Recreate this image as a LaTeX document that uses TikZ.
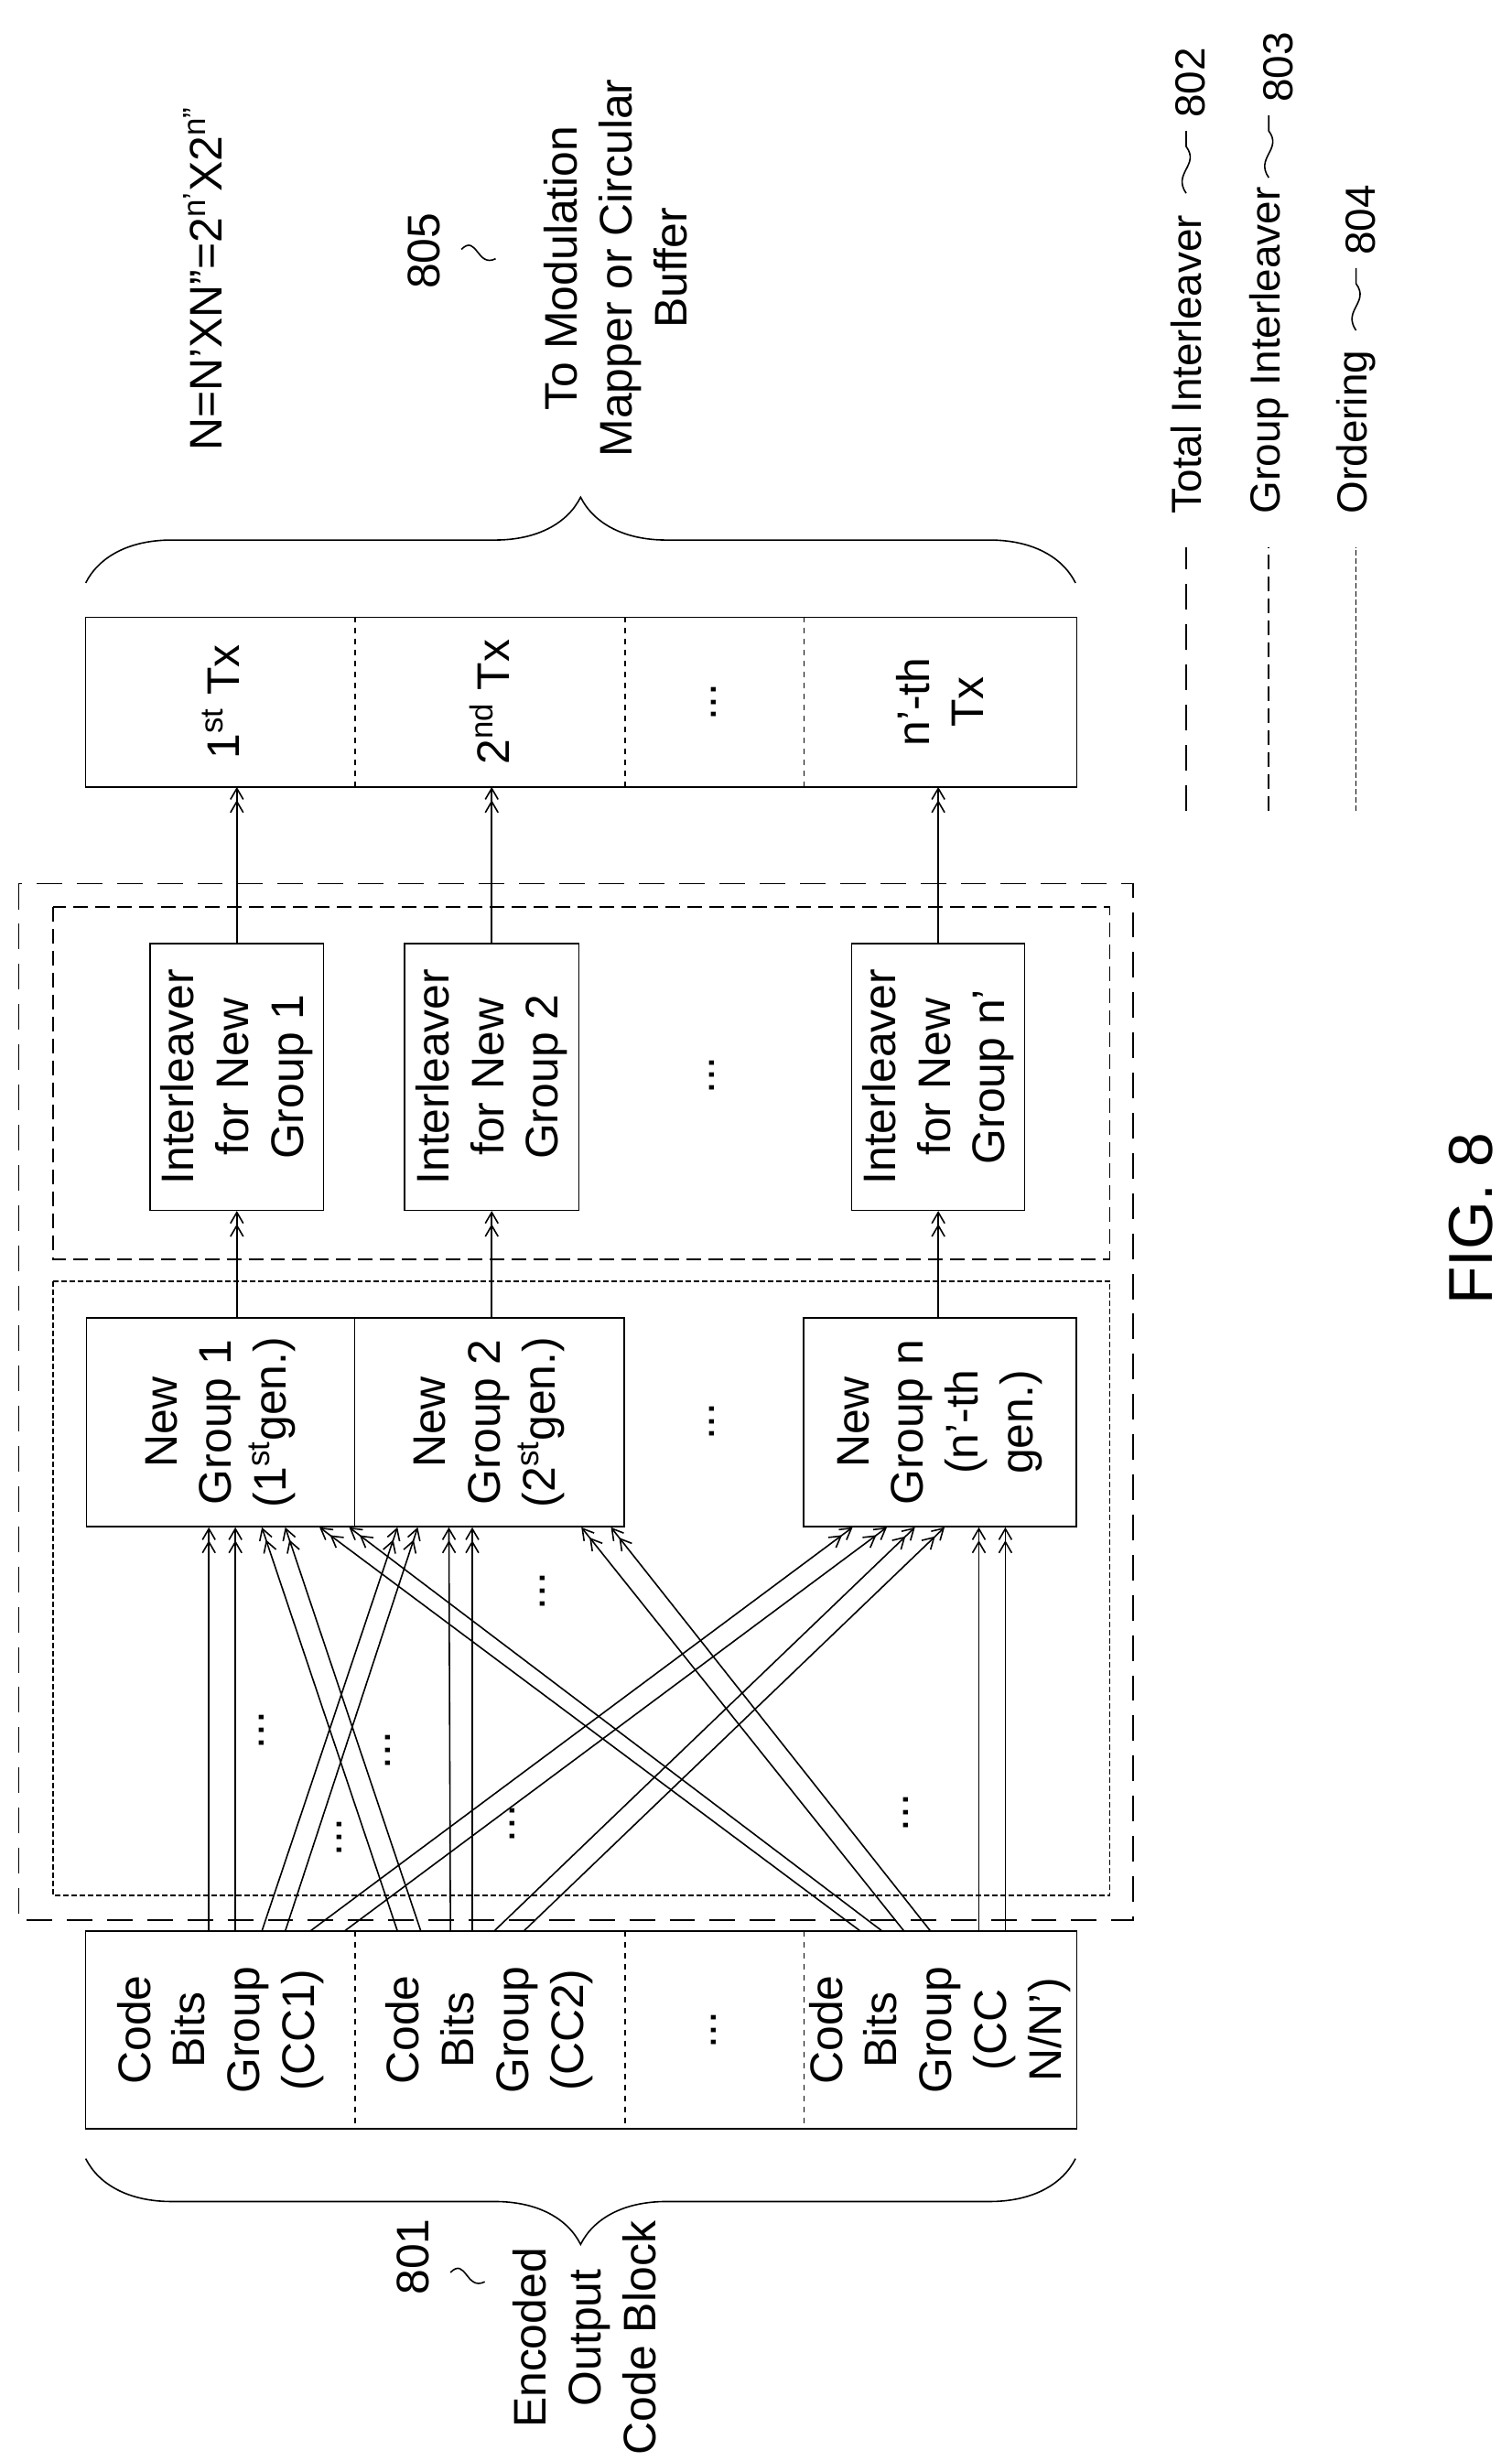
\documentclass[tikz,border=0pt]{standalone}
\usepackage{fontspec}
\setmainfont{Liberation Sans}
\usetikzlibrary{decorations.pathreplacing}
\usetikzlibrary{calc}
\usetikzlibrary{arrows.meta}
\tikzset{
	cell/.style 2 args={inner sep=0pt, anchor=north west, minimum width=#1*0.03cm, minimum height=#2*0.03cm},
	box/.style={draw},
	txt/.style={rotate=90, align=center, font=\fontsize{25}{30}\selectfont},
	small/.style={rotate=90, anchor=west, font=\fontsize{23}{28}\selectfont},
	arr/.style={-{Straight Barb[length=6pt,width=7pt]Straight Barb[length=6pt,width=7pt]}},
	total/.style={dash pattern=on 14pt off 8pt},
	group/.style={dash pattern=on 8pt off 4pt},
	order/.style={dash pattern=on 3pt off 1.5pt},
}
\begin{document}
\begin{tikzpicture}[x=0.03cm, y=-0.03cm, line width=0.8pt]
	\useasboundingbox (0,0) rectangle (970,1579);
	% outer frames
	\draw[total] (12,567) rectangle (727,1232);
	\draw[group] (34,582) rectangle (712,808);
	\draw[order] (34,822) rectangle (712,1216);

	% code bit groups
	\node[cell={172}{126}] (cb1) at (55,1239) {};
	\node[cell={173}{126}] (cb2) at (227,1239) {};
	\node[cell={115}{126}] (cbd) at (400,1239) {};
	\node[cell={175}{126}] (cbn) at (515,1239) {};
	\draw (cb1.north west) rectangle (cbn.south east);
	\foreach \c in {cb1,cb2,cbd}
		\draw[dashed] (\c.north east) -- (\c.south east);
	\node[txt] (cb1t) at (cb1) {Code\\Bits\\Group\\(CC1)};
	\node[txt] (cb2t) at (cb2) {Code\\Bits\\Group\\(CC2)};
	\node[txt] (cbdt) at (cbd) {...};
	\node[txt] (cbnt) at (cbn) {Code\\Bits\\Group\\(CC\\N/N')};

	% new groups
	\node[box, cell={172}{134}] (ng1) at (55,845) {};
	\node[box, cell={173}{134}] (ng2) at (227,845) {};
	\node[box, cell={175}{134}] (ngn) at (515,845) {};
	\node[txt] (ng1t) at (ng1) {New\\Group 1\\(1\textsuperscript{st}gen.)};
	\node[txt] (ng2t) at (ng2) {New\\Group 2\\(2\textsuperscript{st}gen.)};
	\node[txt] (ngdt) at (457,912) {...};
	\node[txt] (ngnt) at (ngn) {New\\Group n\\(n'-th\\gen.)};

	% group interleavers
	\node[box, cell={111}{171}] (il1) at (96,605) {};
	\node[box, cell={112}{171}] (il2) at (259,605) {};
	\node[box, cell={111}{171}] (iln) at (546,605) {};
	\node[txt] (il1t) at (il1) {Interleaver\\for New\\Group 1};
	\node[txt] (il2t) at (il2) {Interleaver\\for New\\Group 2};
	\node[txt] (ildt) at (457,690) {...};
	\node[txt] (ilnt) at (iln) {Interleaver\\for New\\Group n'};

	% transmissions
	\node[cell={172}{108}] (tx1) at (55,396) {};
	\node[cell={173}{108}] (tx2) at (227,396) {};
	\node[cell={115}{108}] (txd) at (400,396) {};
	\node[cell={175}{108}] (txn) at (515,396) {};
	\draw (tx1.north west) rectangle (txn.south east);
	\foreach \c in {tx1,tx2,txd}
		\draw[dashed] (\c.north east) -- (\c.south east);
	\node[txt] (tx1t) at (tx1) {1\textsuperscript{st} Tx};
	\node[txt] (tx2t) at (tx2) {2\textsuperscript{nd} Tx};
	\node[txt] (txdt) at (txd) {...};
	\node[txt] (txnt) at (txn) {n'-th\\Tx};

	% ordering connections
	\foreach \s/\a/\t/\b in {cb1/79/ng1/79, cb1/96/ng1/96, cb1/113/ng2/28, cb1/128/ng2/41,
		cb1/144/ngn/32, cb1/166/ngn/54, cb2/28/ng1/113, cb2/43/ng1/128, cb2/62/ng2/61,
		cb2/76/ng2/76, cb2/90/ngn/72, cb2/109/ngn/91, cbn/37/ng1/150, cbn/51/ng1/169,
		cbn/65/ng2/146, cbn/82/ng2/165, cbn/113/ngn/113, cbn/130/ngn/130}
		\draw[arr] ([xshift=\a*0.03cm]\s.north west) -- ([xshift=\b*0.03cm]\t.south west);
	\foreach \x/\y in {168/1110, 249/1123, 348/1021, 218/1179, 329/1170, 581/1163}
		\node[txt] at (\x,\y) {...};

	% interleaving and output
	\foreach \g/\i/\t in {ng1/il1/tx1, ng2/il2/tx2, ngn/iln/txn}{
		\draw[arr] (\g.north -| \i.south) -- (\i.south);
		\draw[arr] (\i.north) -- (\i.north |- \t.south);
	}

	% braces
	\draw[decorate, decoration={brace, amplitude=1.65cm}] (55,374) -- (690,374);
	\draw[decorate, decoration={brace, amplitude=1.65cm}] (690,1385) -- (55,1385);

	% labels
	\node[txt] (eq) at (130,179) {N=N'XN''=2\textsuperscript{n'}X2\textsuperscript{n''}};
	\node[txt] (r805) at (272,161) {805};
	\draw (296,160) .. controls (306,150) and (306,172) .. (318,166);
	\node[txt] (out) at (395,172) {To Modulation\\Mapper or Circular\\Buffer};
	\node[txt] (r801) at (265,1448) {801};
	\draw (289,1458) .. controls (299,1448) and (299,1470) .. (311,1464);
	\node[txt] (in) at (375,1500) {Encoded\\Output\\Code Block};

	% legend
	\draw[total] (761,520) -- (761,351);
	\draw[group] (814,520) -- (814,351);
	\draw[order] (870,520) -- (870,351);
	\node[small] (l802) at (761,334) {Total Interleaver};
	\node[small] (l803) at (814,334) {Group Interleaver};
	\node[small] (l804) at (870,334) {Ordering};
	\draw (761,124) .. controls (752,111) and (770,106) .. (761,94) -- (761,84);
	\draw (814,114) .. controls (805,101) and (823,96) .. (814,84) -- (814,74);
	\draw (870,212) .. controls (861,199) and (879,194) .. (870,182) -- (870,172);
	\node[small] (n802) at (764,80) {802};
	\node[small] (n803) at (820,70) {803};
	\node[small] (n804) at (873,168) {804};

	\node[rotate=90, font=\fontsize{34}{40}\selectfont] (fig) at (944,782) {FIG. 8};
\end{tikzpicture}
\end{document}
